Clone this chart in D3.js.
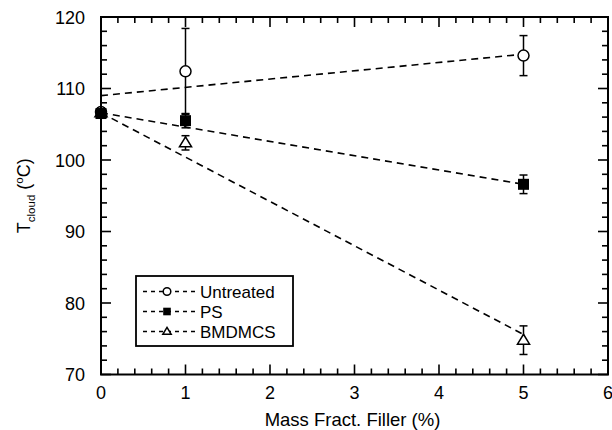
<!DOCTYPE html>
<html>
<head>
<meta charset="utf-8">
<script src="https://cdn.jsdelivr.net/npm/d3@7"></script>
<style>
  body { margin: 0; background: #fff; }
  svg { font-family: "Liberation Sans", Arial, sans-serif; }
</style>
</head>
<body>
<svg width="612" height="430"></svg>
<script>
let width = 612, height = 430;

// data
let fillers = [0, 1, 5];
let series = ["Untreated", "PS", "BMDMCS"];
let tUntreated = [106.7, 112.4, 114.6];
let errUntreated = [0.6, 6.0, 2.8];
let tPS = [106.5, 105.5, 96.6];
let errPS = [0.6, 1.0, 1.3];
let tBMDMCS = [106.6, 102.4, 74.8];
let errBMDMCS = [0.6, 1.0, 2.0];
// dashed fit lines: intercept and slope
let fitIntercept = [109.0, 106.6, 106.6];
let fitSlope = [1.16, -2.0, -6.2];
let xTicks = [0, 1, 2, 3, 4, 5, 6];
let yTicks = [70, 80, 90, 100, 110, 120];

let values = [tUntreated, tPS, tBMDMCS];
let errors = [errUntreated, errPS, errBMDMCS];

let svg = d3.select("svg");

let margin = {left: 101, right: 4, top: 17, bottom: 55.5};
let x = d3.scaleLinear().domain([0, 6]).range([margin.left, width - margin.right]);
let y = d3.scaleLinear().domain([70, 120]).range([height - margin.bottom, margin.top]);

let x0 = x.range()[0], x1 = x.range()[1], y0 = y.range()[0], y1 = y.range()[1];

// ticks on all four sides, pointing inward
let g = svg.append("g").attr("stroke", "#000").attr("stroke-width", 1.6);
let minorX = d3.range(0, 6.01, 0.2).map(d => +d.toFixed(1));
let minorY = d3.range(70, 120.01, 2);
minorX.forEach(d => {
  let len = xTicks.includes(d) ? 10 : 6;
  g.append("line").attr("x1", x(d)).attr("x2", x(d)).attr("y1", y0).attr("y2", y0 - len);
  g.append("line").attr("x1", x(d)).attr("x2", x(d)).attr("y1", y1).attr("y2", y1 + len);
});
minorY.forEach(d => {
  let len = yTicks.includes(d) ? 10 : 6;
  g.append("line").attr("y1", y(d)).attr("y2", y(d)).attr("x1", x0).attr("x2", x0 + len);
  g.append("line").attr("y1", y(d)).attr("y2", y(d)).attr("x1", x1).attr("x2", x1 - len);
});

svg.append("rect")
  .attr("x", x0).attr("y", y1)
  .attr("width", x1 - x0).attr("height", y0 - y1)
  .attr("fill", "none").attr("stroke", "#000").attr("stroke-width", 2);

// tick labels
svg.append("g").selectAll("text").data(xTicks).enter().append("text")
  .attr("x", d => x(d)).attr("y", y0 + 24.5)
  .attr("text-anchor", "middle").attr("font-size", 18)
  .text(d => d);
svg.append("g").selectAll("text").data(yTicks).enter().append("text")
  .attr("x", x0 - 16).attr("y", d => y(d) + 6.5)
  .attr("text-anchor", "end").attr("font-size", 18)
  .text(d => d);

// axis titles
svg.append("text")
  .attr("x", (x0 + x1) / 2 - 2).attr("y", 426)
  .attr("text-anchor", "middle").attr("font-size", 18.5)
  .text("Mass Fract. Filler (%)");

let yt = svg.append("text")
  .attr("transform", `translate(30,${(y0 + y1) / 2}) rotate(-90)`)
  .attr("text-anchor", "middle").attr("font-size", 18);
yt.append("tspan").text("T");
yt.append("tspan").attr("font-size", 11.5).attr("dy", 5).text("cloud");
yt.append("tspan").attr("dy", -5).text(" (");
yt.append("tspan").attr("font-size", 11.5).attr("dy", -7).text("o");
yt.append("tspan").attr("dy", 7).text("C)");

// fit lines
let plot = svg.append("g");
series.forEach((s, i) => {
  plot.append("line")
    .attr("x1", x(0)).attr("y1", y(fitIntercept[i]))
    .attr("x2", x(5)).attr("y2", y(fitIntercept[i] + 5 * fitSlope[i]))
    .attr("stroke", "#000").attr("stroke-width", 1.6)
    .attr("stroke-dasharray", "7,5");
});

// error bars
series.forEach((s, i) => {
  fillers.forEach((f, j) => {
    let v = values[i][j], e = errors[i][j];
    plot.append("line").attr("x1", x(f)).attr("x2", x(f))
      .attr("y1", y(v - e)).attr("y2", y(v + e))
      .attr("stroke", "#000").attr("stroke-width", 1.5);
    [v - e, v + e].forEach(c => {
      plot.append("line").attr("x1", x(f) - 4).attr("x2", x(f) + 4)
        .attr("y1", y(c)).attr("y2", y(c))
        .attr("stroke", "#000").attr("stroke-width", 1.5);
    });
  });
});

function marker(sel, i, cx, cy, r) {
  if (i === 0) {
    sel.append("circle").attr("cx", cx).attr("cy", cy).attr("r", r)
      .attr("fill", "#fff").attr("stroke", "#000").attr("stroke-width", 1.5);
  } else if (i === 1) {
    sel.append("rect").attr("x", cx - r).attr("y", cy - r)
      .attr("width", 2 * r).attr("height", 2 * r)
      .attr("fill", "#000");
  } else {
    let h = r * 1.8;
    sel.append("path")
      .attr("d", `M${cx},${cy - h * 0.6}L${cx + r * 1.1},${cy + h * 0.4}L${cx - r * 1.1},${cy + h * 0.4}Z`)
      .attr("fill", "#fff").attr("stroke", "#000").attr("stroke-width", 1.5);
  }
}

// draw markers; at x=0 the three overlap
[0, 2, 1].forEach(i => {
  fillers.forEach((f, j) => {
    marker(plot, i, x(f), y(values[i][j]), 5.5);
  });
});

// legend
let lg = svg.append("g");
lg.append("rect").attr("x", 136).attr("y", 276).attr("width", 157).attr("height", 70)
  .attr("fill", "#fff").attr("stroke", "#000").attr("stroke-width", 1.8);
series.forEach((s, i) => {
  let ly = 291.5 + i * 20;
  lg.append("line").attr("x1", 143).attr("x2", 196).attr("y1", ly).attr("y2", ly)
    .attr("stroke", "#000").attr("stroke-width", 1.3).attr("stroke-dasharray", "4,4");
  marker(lg, i, 167, ly, 3.8);
  lg.append("text").attr("x", 200).attr("y", ly + 6).attr("font-size", 17).text(s);
});
</script>
</body>
</html>
